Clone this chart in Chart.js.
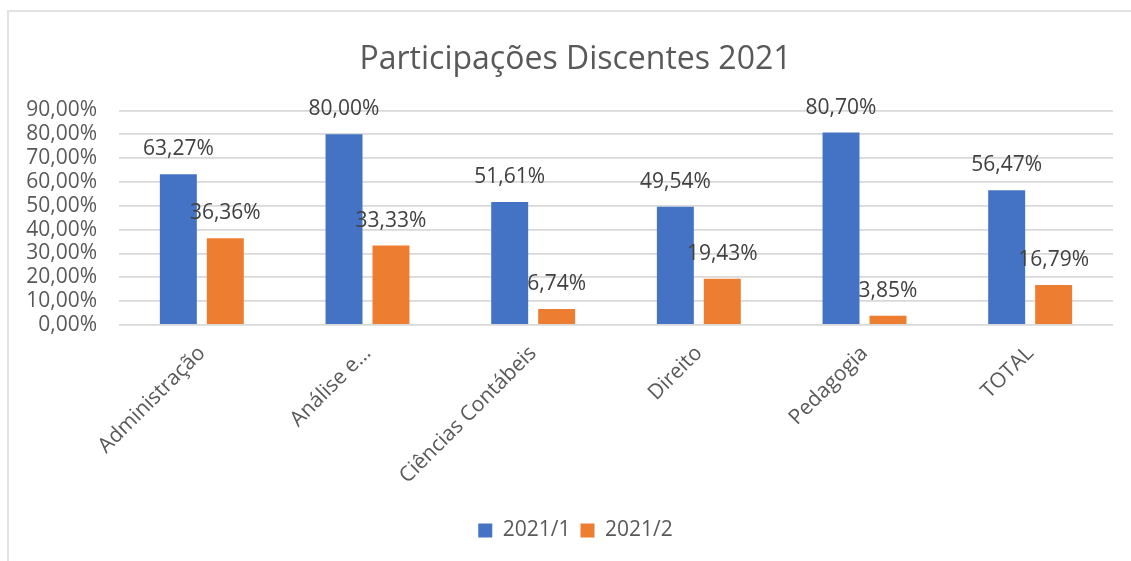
<!DOCTYPE html>
<html>
<head>
<meta charset="utf-8">
<script src="https://cdn.jsdelivr.net/npm/chart.js@4"></script>
<style>
  html,body{margin:0;padding:0;background:#fff;}
  #frame{position:absolute;left:7px;top:10px;width:1140px;height:560px;border-left:2px solid #e3e3e3;border-top:2px solid #e3e3e3;}
  #wrap{position:absolute;left:0;top:0;width:1131px;height:561px;}
</style>
</head>
<body>
<div id="frame"></div>
<div id="wrap"><canvas id="c"></canvas></div>
<script>
const cursos = ["Administração","Análise e…","Ciências Contábeis","Direito","Pedagogia","TOTAL"];
const sem1 = [63.27, 80.00, 51.61, 49.54, 80.70, 56.47];
const sem2 = [36.36, 33.33, 6.74, 19.43, 3.85, 16.79];
const yTicks = [0,10,20,30,40,50,60,70,80,90];

const FONT = "'Open Sans', sans-serif";
const pct = v => v.toFixed(2).replace(".", ",") + "%";

const labelsPlugin = {
  id:"rotulos",
  afterDatasetsDraw(chart){
    const ctx = chart.ctx;
    ctx.save();
    ctx.font = "21px " + FONT;
    ctx.fillStyle = "#404040";
    ctx.textAlign = "center";
    ctx.textBaseline = "middle";
    chart.data.datasets.forEach((ds,i)=>{
      chart.getDatasetMeta(i).data.forEach((bar,j)=>{
        ctx.fillText(pct(ds.data[j]), bar.x, bar.y - 25);
      });
    });
    ctx.restore();
  }
};

new Chart(document.getElementById("c"), {
  type:"bar",
  data:{
    labels: cursos,
    datasets:[
      {label:"2021/1", data:sem1, backgroundColor:"#4472C4"},
      {label:"2021/2", data:sem2, backgroundColor:"#ED7D31"},
    ],
  },
  options:{
    responsive:true, maintainAspectRatio:false, animation:false,
    layout:{padding:{left:20,right:0,top:0,bottom:10}},
    categoryPercentage:0.567, barPercentage:0.787,
    scales:{
      x:{
        grid:{display:false}, border:{display:false},
        ticks:{font:{family:FONT,size:21}, color:"#595959", minRotation:45, maxRotation:45, padding:8, autoSkip:false},
        afterFit(s){ s.height = 185; }
      },
      y:{
        min:0, max:90,
        afterBuildTicks(s){ s.ticks = yTicks.map(v=>({value:v})); },
        grid:{color:"#d9d9d9", lineWidth:1.8, drawTicks:false}, border:{display:false},
        ticks:{font:{family:FONT,size:21}, color:"#595959", padding:22, autoSkip:false, callback:v=>pct(v)},
        afterFit(s){ s.width = 99; }
      },
      yR:{
        position:"right", min:0, max:90,
        grid:{display:false}, border:{display:false}, ticks:{display:false},
        afterFit(s){ s.width = 18; }
      }
    },
    plugins:{
      title:{display:true, text:"Participações Discentes 2021", color:"#595959",
        font:{family:FONT,size:32,weight:"normal"}, padding:{top:41,bottom:31}},
      legend:{position:"bottom", labels:{font:{family:FONT,size:21}, color:"#595959", boxWidth:14, boxHeight:14, padding:10}},
      tooltip:{enabled:false}
    }
  },
  plugins:[labelsPlugin]
});
</script>
</body>
</html>
